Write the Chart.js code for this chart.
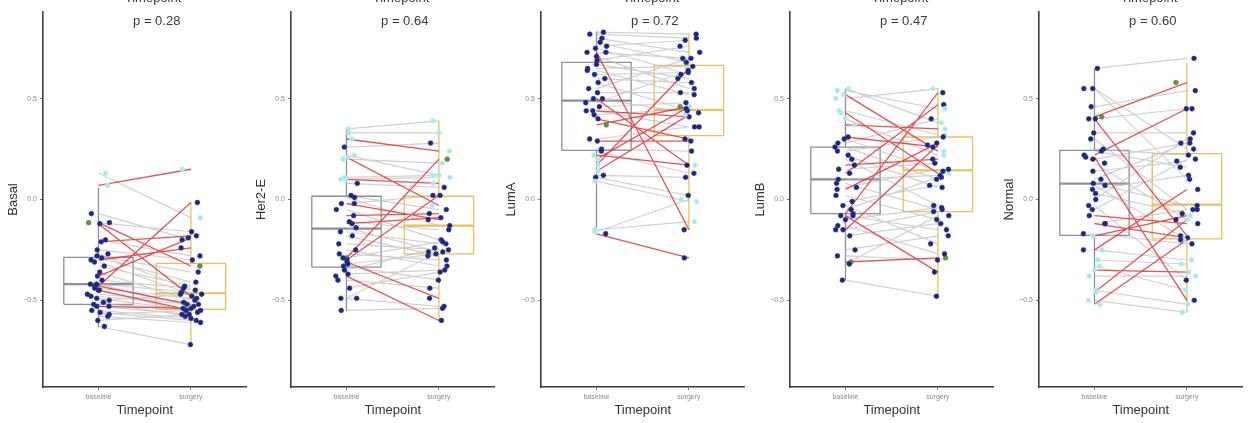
<!DOCTYPE html>
<html>
<head>
<meta charset="utf-8">
<script src="https://cdn.jsdelivr.net/npm/chart.js@4.4.0/dist/chart.umd.min.js"></script>
<style>
html, body { margin: 0; padding: 0; background: #fff; }
body { width: 1254px; height: 423px; position: relative; overflow: hidden; }
.panel { position: absolute; top: 0; width: 250px; height: 423px; }
</style>
</head>
<body>
<div class="panel" style="left:1px"><canvas id="c0"></canvas></div>
<div class="panel" style="left:249px"><canvas id="c1"></canvas></div>
<div class="panel" style="left:499px"><canvas id="c2"></canvas></div>
<div class="panel" style="left:748px"><canvas id="c3"></canvas></div>
<div class="panel" style="left:997px"><canvas id="c4"></canvas></div>
<script>
const timepoints = ['baseline', 'surgery'];
const subtypes = ['Basal', 'Her2-E', 'LumA', 'LumB', 'Normal'];
const pValues = ['0.28', '0.64', '0.72', '0.47', '0.60'];

// box stats: [lower whisker, q1, median, q3, upper whisker]
const boxBaseline = [
    [-0.635, -0.52, -0.42, -0.287, 0.06],
    [-0.553, -0.335, -0.144, 0.016, 0.356],
    [-0.16, 0.244, 0.49, 0.68, 0.833],
    [-0.40, -0.07, 0.10, 0.26, 0.55],
    [-0.515, -0.178, 0.079, 0.244, 0.647]
];
const boxSurgery = [
    [-0.72, -0.545, -0.465, -0.317, -0.015],
    [-0.60, -0.27, -0.13, 0.016, 0.39],
    [-0.15, 0.317, 0.445, 0.665, 0.827],
    [-0.47, -0.06, 0.145, 0.31, 0.55],
    [-0.56, -0.195, -0.025, 0.228, 0.68]
];

// paired samples (r = switched, g = unchanged) and dot group (n, c, g)
const basalBase = [0.07, -0.115, -0.12, -0.43, -0.38, -0.21, -0.30, -0.43, -0.45, -0.53,
    0.13, -0.07, -0.115, -0.20, -0.25, -0.27, -0.28, -0.29, -0.31, -0.33, -0.36, -0.40, -0.42, -0.42, -0.44,
    -0.45, -0.47, -0.48, -0.49, -0.50, -0.51, -0.52, -0.53, -0.55, -0.56, -0.57, -0.58, -0.60, -0.63];
const basalSurg = [0.15, -0.33, -0.48, -0.015, -0.19, -0.18, -0.24, -0.52, -0.55, -0.54,
    -0.09, -0.20, -0.16, -0.28, -0.30, -0.45, -0.36, -0.41, -0.47, -0.43, -0.50, -0.44, -0.46, -0.53, -0.49,
    -0.56, -0.51, -0.52, -0.55, -0.47, -0.58, -0.54, -0.57, -0.59, -0.60, -0.55, -0.61, -0.57, -0.72];
const basalSwitch = 'rrrrrrrrrrggggggggggggggggggggggggggggg';
const basalDots   = 'cgnnnnnnnncnnnnnnnnnnnnnnnnnnnnnnnnnnnn';

const her2Base = [0.30, 0.21, 0.10, -0.02, -0.08, -0.12, -0.29, -0.30, -0.31, -0.38,
    0.35, 0.33, 0.26, 0.22, 0.20, 0.11, 0.10, 0.08, 0.02, 0.01, -0.02, -0.05, -0.11, -0.14, -0.16,
    -0.18, -0.22, -0.25, -0.27, -0.29, -0.32, -0.33, -0.35, -0.37, -0.40, -0.44, -0.49, -0.49, -0.55];
const her2Surg = [0.24, -0.03, 0.08, -0.10, -0.07, -0.09, 0.20, 0.02, -0.49, -0.60,
    0.39, 0.33, 0.28, 0.12, 0.18, 0.12, 0.11, 0.06, -0.05, -0.13, 0.02, -0.20, -0.15, -0.26, -0.22,
    -0.28, -0.25, -0.33, -0.30, -0.21, -0.27, -0.40, -0.24, -0.35, -0.44, -0.36, -0.26, -0.53, -0.54];
const her2Switch = 'rrrrrrrrrrggggggggggggggggggggggggggggg';
const her2Dots   = 'cccnnngnnnccnccccnnnnnnnnnnnnnnnnnnnnnn';

const lumaBase = [0.73, 0.50, 0.44, 0.37, 0.29, 0.40, 0.20, 0.17, 0.14, 0.22, -0.17,
    0.83, 0.82, 0.80, 0.78, 0.76, 0.75, 0.73, 0.71, 0.69, 0.67, 0.65, 0.64, 0.62, 0.60, 0.58,
    0.55, 0.53, 0.50, 0.48, 0.46, 0.44, 0.42, 0.30, 0.25, 0.24, 0.12, 0.11, 0.09, -0.16, -0.15];
const lumaSurg = [-0.15, 0.17, 0.41, 0.46, 0.29, 0.30, 0.46, 0.65, 0.42, 0.17, -0.29,
    0.82, 0.80, 0.73, 0.68, 0.79, 0.62, 0.70, 0.55, 0.76, 0.60, 0.66, 0.52, 0.63, 0.58, 0.44,
    0.70, 0.53, 0.43, 0.64, 0.48, 0.36, 0.45, 0.36, 0.24, 0.13, 0.11, 0.02, -0.01, 0.00, -0.11];
const lumaSwitch = 'rrrrrrrrrrrgggggggggggggggggggggggggggggg';
const lumaDots   = 'nnngnnccccnnnnnnnnnnnnnnnnnnnnnnnnnnnnccc';

const lumbBase = [0.52, 0.43, 0.37, 0.31, 0.17, 0.13, 0.05, -0.07, -0.15, -0.08, -0.31,
    0.55, 0.54, 0.50, 0.44, 0.40, 0.30, 0.28, 0.26, 0.24, 0.22, 0.20, 0.15, 0.10, 0.08,
    0.06, 0.02, -0.01, -0.03, -0.05, -0.08, -0.10, -0.13, -0.15, -0.18, -0.25, -0.28, -0.32, -0.40];
const lumbSurg = [0.24, 0.13, 0.35, 0.26, 0.20, 0.47, 0.28, 0.53, 0.27, -0.36, -0.29,
    0.38, 0.45, 0.55, 0.32, 0.22, 0.14, 0.40, 0.10, 0.31, 0.06, -0.03, 0.18, 0.12, -0.05,
    0.15, -0.10, 0.07, -0.22, 0.11, -0.15, -0.04, -0.27, -0.06, -0.12, -0.18, -0.30, -0.08, -0.48];
const lumbSwitch = 'rrrrrrrrrrrgggggggggggggggggggggggggggg';
const lumbDots   = 'cccnnnnnnngcccccnnnnnnnnnnnnnnnnnnnnnnn';

const normalBase = [0.41, 0.40, 0.22, 0.21, -0.08, -0.12, -0.18, -0.25, -0.35, -0.46, -0.52,
    0.65, 0.55, 0.55, 0.46, 0.40, 0.33, 0.30, 0.25, 0.24, 0.20, 0.18, 0.14, 0.10, 0.08,
    0.07, 0.05, 0.03, 0.00, -0.03, -0.05, -0.12, -0.17, -0.25, -0.30, -0.33, -0.38, -0.45, -0.50];
const normalSurg = [0.58, -0.18, 0.45, -0.50, -0.12, -0.19, -0.08, 0.05, -0.36, -0.10, -0.20,
    0.70, 0.10, 0.25, 0.54, 0.45, 0.33, -0.05, 0.22, 0.16, 0.28, -0.10, 0.19, 0.28, -0.03,
    -0.20, 0.12, -0.07, 0.30, -0.40, 0.20, -0.05, -0.22, -0.30, -0.32, -0.45, -0.38, -0.52, -0.56];
const normalSwitch = 'rrrrrrrrrrrgggggggggggggggggggggggggggg';
const normalDots   = 'gnnnnncncccnnnnnnnnnnnnnnnnnnnnnncccccc';

const panelData = [
    [basalBase, basalSurg, basalSwitch, basalDots],
    [her2Base, her2Surg, her2Switch, her2Dots],
    [lumaBase, lumaSurg, lumaSwitch, lumaDots],
    [lumbBase, lumbSurg, lumbSwitch, lumbDots],
    [normalBase, normalSurg, normalSwitch, normalDots]
];

const FONT = '"Liberation Sans", Arial, sans-serif';
const dotColors = { n: '#1d2680', c: '#a6e8ee', g: '#5f9a3a' };
const dotBorders = { n: '#2b3a8c', c: '#bff0f2', g: '#4a7f2c' };
const HALF = 0.375;

// deterministic horizontal jitter for the dots (hash of index, not data)
function jit(i, k) {
    const h = Math.sin((i + 1) * 12.9898 + k * 78.233) * 43758.5453;
    return ((h - Math.floor(h)) - 0.5) * 0.24;
}

function boxSets(x, st, color) {
    return [
        {
            data: [{x: x - HALF, y: st[1]}, {x: x + HALF, y: st[1]}, {x: x + HALF, y: st[3]},
                   {x: x - HALF, y: st[3]}, {x: x - HALF, y: st[1]}],
            borderColor: color, borderWidth: 1.3
        },
        {
            data: [{x: x - HALF, y: st[2]}, {x: x + HALF, y: st[2]}],
            borderColor: color, borderWidth: 2.2
        },
        {
            data: [{x: x, y: st[0]}, {x: x, y: st[1]}, {x: x, y: null}, {x: x, y: st[3]}, {x: x, y: st[4]}],
            borderColor: color, borderWidth: 1.3
        }
    ].map(d => Object.assign(d, { showLine: true, pointRadius: 0, fill: false, order: 4 }));
}

const annot = {
    id: 'annot',
    afterDraw(chart, args, opts) {
        const { ctx, scales: { x } } = chart;
        ctx.save();
        ctx.fillStyle = '#3a3a3a';
        ctx.textAlign = 'center';
        ctx.font = '13px ' + FONT;
        ctx.textBaseline = 'middle';
        ctx.fillText('p = ' + opts.p, x.getPixelForValue(1.63), 21);
        ctx.textBaseline = 'alphabetic';
        ctx.fillText('Timepoint', x.getPixelForValue(1.59), 2);
        ctx.restore();
    }
};

panelData.forEach(([base, surg, sw, dots], k) => {
    const gray = [], red = [], pts = [], ptCol = [], ptBor = [];
    base.forEach((b, i) => {
        const seg = sw[i] === 'r' ? red : gray;
        seg.push({x: 1, y: b}, {x: 2, y: surg[i]}, {x: 1.5, y: null});
        const g = dots[i] || 'n';
        pts.push({x: 1 + jit(i, k), y: b}, {x: 2 + jit(i, k + 7), y: surg[i]});
        ptCol.push(dotColors[g], dotColors[g]);
        ptBor.push(dotBorders[g], dotBorders[g]);
    });

    const datasets = [
        {
            data: pts, showLine: false, pointRadius: 2.4, pointBorderWidth: 0.6,
            pointBackgroundColor: ptCol, pointBorderColor: ptBor, order: 0
        },
        {
            data: red, showLine: true, pointRadius: 0, borderColor: 'rgba(228,52,52,0.85)',
            borderWidth: 1.3, order: 1
        },
        {
            data: gray, showLine: true, pointRadius: 0, borderColor: 'rgba(190,190,190,0.7)',
            borderWidth: 1.2, order: 2
        },
        ...boxSets(1, boxBaseline[k], '#8791a0'),
        ...boxSets(2, boxSurgery[k], '#e9c257')
    ];

    new Chart(document.getElementById('c' + k), {
        type: 'scatter',
        data: { datasets },
        plugins: [annot],
        options: {
            responsive: true,
            maintainAspectRatio: false,
            animation: false,
            layout: { padding: { left: 0, right: 3, top: 12, bottom: 0 } },
            plugins: {
                legend: { display: false },
                tooltip: { enabled: false },
                annot: { p: pValues[k] }
            },
            scales: {
                x: {
                    type: 'linear', min: 0.4, max: 2.6,
                    afterBuildTicks: s => { s.ticks = [{value: 1}, {value: 2}]; },
                    afterFit: s => { s.height = 36; },
                    ticks: {
                        callback: v => timepoints[Math.round(v) - 1],
                        font: { size: 7, family: FONT }, color: '#8a8a8a', padding: 3, maxRotation: 0
                    },
                    grid: { display: true, drawOnChartArea: false, tickLength: 3, color: '#777' },
                    border: { display: true, color: '#3c3c3c', width: 1.6 },
                    title: {
                        display: true, text: 'Timepoint', color: '#333',
                        font: { size: 13, family: FONT }, padding: { top: 0, bottom: 5 }
                    }
                },
                y: {
                    min: -0.93, max: 0.93,
                    afterBuildTicks: s => { s.ticks = [{value: -0.5}, {value: 0}, {value: 0.5}]; },
                    afterFit: s => { s.width = 42; },
                    ticks: {
                        callback: v => (v < 0 ? '\u2212' : '') + Math.abs(v).toFixed(1),
                        font: { size: 7, family: FONT }, color: '#8a8a8a', padding: 3
                    },
                    grid: { display: true, drawOnChartArea: false, tickLength: 3, color: '#777' },
                    border: { display: true, color: '#3c3c3c', width: 1.6 },
                    title: {
                        display: true, text: subtypes[k], color: '#333',
                        font: { size: 13, family: FONT }, padding: { top: 5, bottom: 0 }
                    }
                }
            }
        }
    });
});
</script>
</body>
</html>
